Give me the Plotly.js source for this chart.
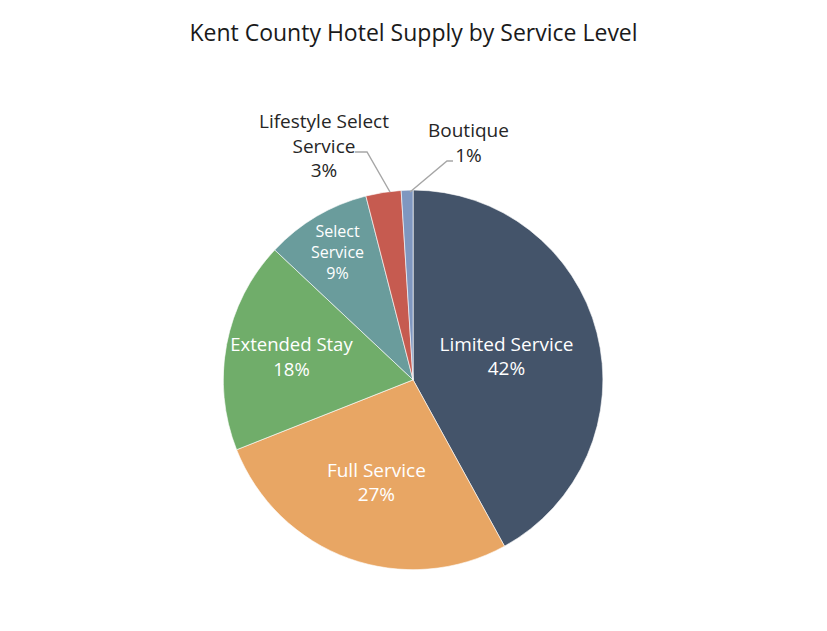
<!DOCTYPE html>
<html>
<head>
<meta charset="utf-8">
<script src="https://cdn.plot.ly/plotly-3.0.1.min.js"></script>
<style>
  html, body { margin: 0; padding: 0; background: #fff; }
  #chart { width: 827px; height: 631px; }
</style>
</head>
<body>
<div id="chart"></div>
<script>
// service levels, clockwise from 12 o'clock
var levels = ['Limited Service', 'Full Service', 'Extended Stay', 'Select Service', 'Lifestyle Select Service', 'Boutique'];
var shares = [42, 27, 18, 9, 3, 1];
var colours = ['#44546A', '#E8A664', '#70AD6A', '#6A9C9C', '#C65B50', '#7F97C0'];

// how the names are broken on the slices
var shownNames = ['Limited Service', 'Full Service', 'Extended Stay', 'Select<br>Service', 'Lifestyle Select<br>Service', 'Boutique'];

var inside = [];
var sliceText = [];
for (let i = 0; i < shares.length; i++) {
  if (shares[i] >= 5) {
    inside.push('inside');
    sliceText.push(shownNames[i] + '<br>' + shares[i] + '%');
  } else {
    inside.push('none');
    sliceText.push('');
  }
}

var trace = {
  type: 'pie',
  labels: levels,
  values: shares,
  text: sliceText,
  textinfo: 'text',
  textposition: inside,
  insidetextorientation: 'horizontal',
  insidetextfont: { family: 'Open Sans, sans-serif', size: 19, color: '#ffffff' },
  sort: false,
  direction: 'clockwise',
  rotation: 0,
  hoverinfo: 'label+percent',
  marker: { colors: colours, line: { color: '#ffffff', width: 0.6 } },
  domain: { x: [0.27, 0.729], y: [0.097, 0.699] },
  showlegend: false
};

// small slices: label outside, joined by an elbow leader line
var small = [];
for (let i = 0; i < shares.length; i++) {
  if (shares[i] < 5) small.push(i);
}
var labelSpots = [
  { x: 0.3918, y: 0.7702, line: 'M 0.4293,0.7591 L 0.4438,0.7591 L 0.4716,0.6957' },
  { x: 0.5671, y: 0.7734, line: 'M 0.5478,0.7449 L 0.5405,0.7449 L 0.4958,0.6957' }
];
var notes = [];
var leaders = [];
small.forEach(function (idx, k) {
  var s = labelSpots[k];
  notes.push({
    xref: 'paper', yref: 'paper',
    x: s.x, y: s.y,
    xanchor: 'center', yanchor: 'middle',
    text: shownNames[idx] + '<br>' + shares[idx] + '%',
    showarrow: false,
    align: 'center',
    font: { family: 'Open Sans, sans-serif', size: 19, color: '#262626' }
  });
  leaders.push({
    type: 'path',
    xref: 'paper', yref: 'paper',
    path: s.line,
    line: { color: '#A6A6A6', width: 1.4 }
  });
});

var layout = {
  width: 827,
  height: 631,
  margin: { l: 0, r: 0, t: 0, b: 0 },
  paper_bgcolor: '#ffffff',
  title: {
    text: 'Kent County Hotel Supply by Service Level',
    font: { family: 'Open Sans, sans-serif', size: 23, color: '#1a1a1a' },
    x: 0.5, xanchor: 'center',
    y: 0.948, yanchor: 'middle'
  },
  annotations: notes,
  shapes: leaders
};

Plotly.newPlot('chart', [trace], layout, { displayModeBar: false, staticPlot: true });
</script>
</body>
</html>
